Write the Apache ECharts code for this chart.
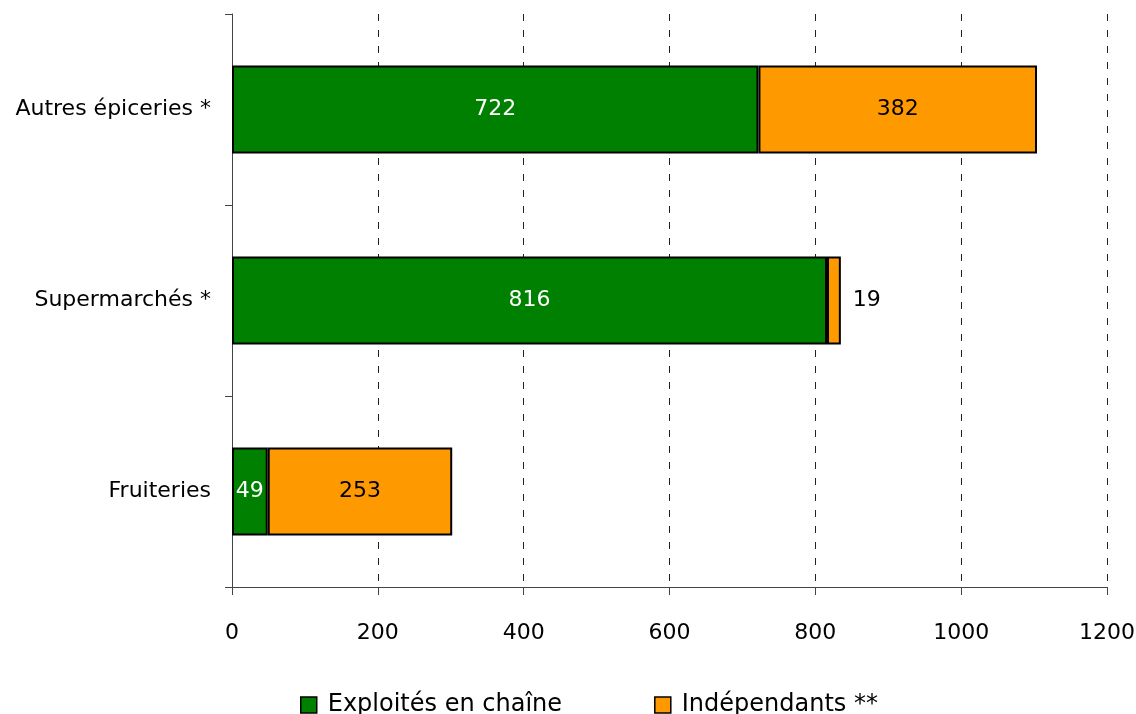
<!DOCTYPE html>
<html><head><meta charset="utf-8">
<script src="https://cdn.jsdelivr.net/npm/echarts@6/dist/echarts.min.js"></script>
<style>html,body{margin:0;padding:0;background:#fff;overflow:hidden}#c{width:1136px;height:714px}</style>
</head><body><div id="c"></div>
<script>
const categories = ['Fruiteries', 'Supermarchés *', 'Autres épiceries *'];
const chaine = [49, 816, 722];
const independants = [253, 19, 382];
const xTicks = [0, 200, 400, 600, 800, 1000, 1200];
const seriesNames = ['Exploités en chaîne', 'Indépendants **'];

const FONT = 'DejaVu Sans';
const FS = 22;
const chart = echarts.init(document.getElementById('c'), null, {renderer: 'canvas'});
chart.setOption({
  animation: false,
  textStyle: {fontFamily: FONT},
  grid: {left: 232, right: 29, top: 14, bottom: 127, containLabel: false, outerBoundsMode: 'none'},
  legend: {
    top: 688, left: 295, itemGap: 92, itemWidth: 16, itemHeight: 16,
    icon: 'rect',
    itemStyle: {borderColor: '#000', borderWidth: 1.5},
    textStyle: {fontFamily: FONT, fontSize: 24, color: '#000', padding: [0, 0, 0, 6]},
    data: seriesNames
  },
  xAxis: {
    type: 'value', min: xTicks[0], max: xTicks[xTicks.length - 1], interval: 200,
    axisLine: {show: true, lineStyle: {color: '#444', width: 1}},
    axisTick: {show: true, length: 8, lineStyle: {color: '#444'}},
    axisLabel: {margin: 35, fontSize: FS, color: '#000', fontFamily: FONT, formatter: v => String(v)},
    splitLine: {show: true, lineStyle: {color: '#222', type: [7, 9], width: 1}}
  },
  yAxis: {
    type: 'category', data: categories,
    axisLine: {show: true, lineStyle: {color: '#444', width: 1}},
    axisTick: {show: true, length: 7, lineStyle: {color: '#444'}},
    axisLabel: {margin: 21, fontSize: FS, color: '#000', fontFamily: FONT}
  },
  series: [
    {
      name: seriesNames[0], type: 'bar', stack: 'a', data: chaine, barWidth: '46%',
      itemStyle: {color: '#008000', borderColor: '#000', borderWidth: 2},
      label: {show: true, position: 'inside', color: '#fff', fontSize: FS, fontFamily: FONT}
    },
    {
      name: seriesNames[1], type: 'bar', stack: 'a', barWidth: '46%',
      data: independants.map((v, i) => v < 50
        ? {value: v, label: {position: 'right', distance: 12}}
        : v),
      itemStyle: {color: '#FF9900', borderColor: '#000', borderWidth: 2},
      label: {show: true, position: 'inside', color: '#000', fontSize: FS, fontFamily: FONT}
    }
  ]
});
</script></body></html>
